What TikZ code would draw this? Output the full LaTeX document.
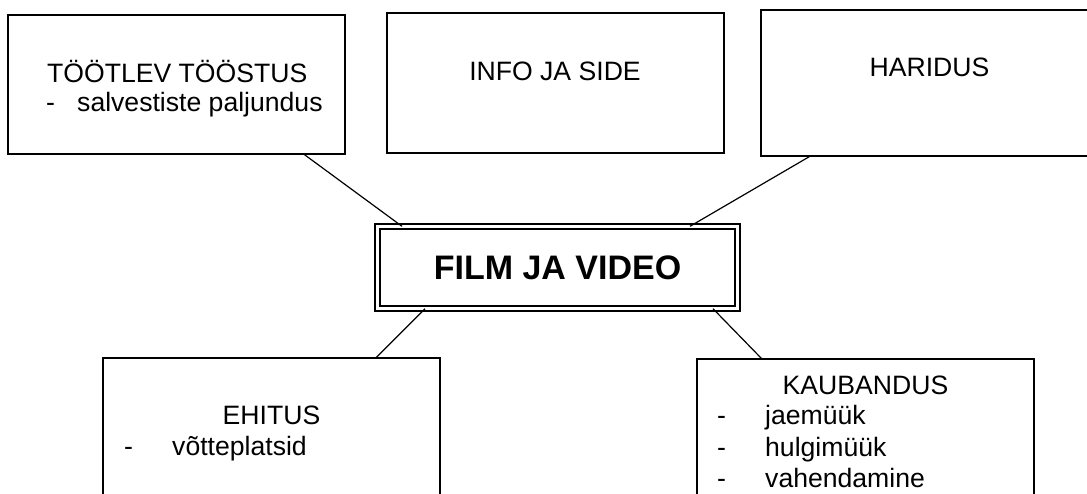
\documentclass[tikz,border=0pt]{standalone}
\usepackage{fontspec}
\setmainfont{Liberation Sans}
\usetikzlibrary{positioning,calc}

\begin{document}
\begin{tikzpicture}[x=1pt,y=-1pt,
  every node/.style={inner sep=0pt},
  sector/.style={draw,line width=1.2pt,minimum width=337pt},
  hub/.style={draw,double,line width=1.6pt,double distance=3.4pt,outer sep=0pt,
    minimum width=360.4pt,minimum height=82.4pt,font=\fontsize{34}{40}\selectfont\bfseries},
  txt/.style={anchor=base west,font=\fontsize{26.6}{31}\selectfont},
  head/.style={txt,anchor=base},
  link/.style={line width=1.2pt}
  ]
  \useasboundingbox (0,0) rectangle (1087,493);
  \clip (0,0) rectangle (1087,493);

  % the central box
  \node[hub] (film) at (557.5,267.5) {FILM JA VIDEO};

  % the sectors above
  \node[sector,minimum height=139pt] (tt) at (176.5,84.5) {};
  \node[sector,minimum height=140pt] (info) at (555.5,83) {};
  \node[sector,minimum height=146pt] (har) at (929.5,83) {};
  % the sectors below
  \node[sector,minimum height=140pt] (eh) at (271.5,428) {};
  \node[sector,minimum height=141pt] (kb) at (865.5,429.5) {};

  % the texts
  \node[txt] (tt-head) at (47,82) {TÖÖTLEV TÖÖSTUS};
  \node[txt] (tt-dash) at (46,111) {-};
  \node[txt] (tt-item) at (77,111) {salvestiste paljundus};
  \node[head] (info-head) at (555,80) {INFO JA SIDE};
  \node[head] (har-head) at (929.5,76) {HARIDUS};
  \node[head] (eh-head) at (271.5,424) {EHITUS};
  \node[txt] (eh-dash) at (124,455) {-};
  \node[txt] (eh-item) at (172,455) {võtteplatsid};
  \node[head] (kb-head) at (865.5,394) {KAUBANDUS};
  \foreach \item/\y [count=\i] in {jaemüük/424,hulgimüük/456,vahendamine/487} {
    \node[txt] (kb-dash\i) at (717,\y) {-};
    \node[txt] (kb-item\i) at (765,\y) {\item};
  }

  % the links
  \draw[link] ($(tt.south west)+(297,0)$) -- ($(film.north west)+(24.7,0)$);
  \draw[link] ($(info.south west)+(159,0)$) -- ($(info.south west)+(159,0)$ |- film.north);
  \draw[link] ($(har.south west)+(49,0)$) -- ($(film.north west)+(312.7,0)$);
  \draw[link] ($(film.south west)+(47.7,0)$) -- ($(eh.north west)+(274,0)$);
  \draw[link] ($(film.south west)+(335.7,0)$) -- ($(kb.north west)+(65,0)$);
\end{tikzpicture}
\end{document}
